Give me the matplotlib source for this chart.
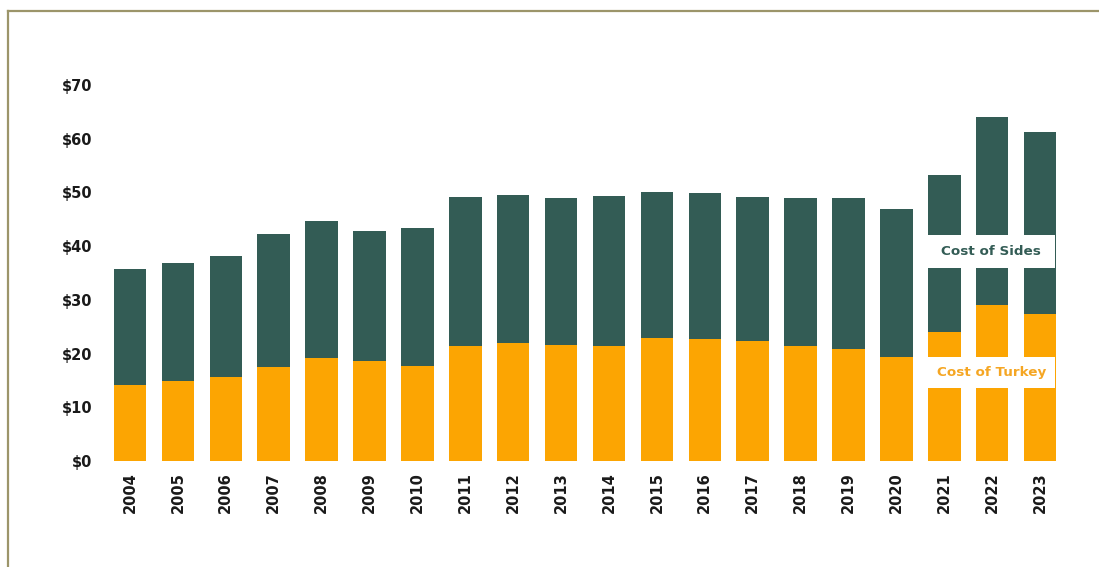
import numpy as np
import matplotlib
matplotlib.use('Agg')
import matplotlib.pyplot as plt
from matplotlib.patches import Rectangle
from matplotlib.lines import Line2D

# Thanksgiving dinner cost, split into turkey and sides
YEARS = [str(y) for y in range(2004, 2024)]
TOTAL = [35.68, 36.78, 38.10, 42.26, 44.61, 42.91, 43.47, 49.20, 49.48, 49.04,
         49.41, 50.11, 49.87, 49.12, 48.90, 48.91, 46.90, 53.31, 64.05, 61.17]
TURKEY = [14.1, 14.9, 15.6, 17.5, 19.2, 18.6, 17.7, 21.4, 22.0, 21.6,
          21.4, 22.9, 22.7, 22.3, 21.4, 20.80, 19.39, 23.99, 28.96, 27.35]
SIDES = [t - k for t, k in zip(TOTAL, TURKEY)]
YTICKS = [0, 10, 20, 30, 40, 50, 60, 70]

GREEN = '#335c55'
ORANGE = '#fca502'
FRAME = '#9c956a'

plt.rcParams['font.family'] = ['DejaVu Sans']

fig = plt.figure(figsize=(10.99, 5.67), dpi=100)
ax = fig.add_axes([0.0965, 0.187, 0.8717, 0.663])

x = np.arange(len(YEARS))
ax.bar(x, TURKEY, width=0.68, color=ORANGE, zorder=2)
ax.bar(x, SIDES, width=0.68, bottom=TURKEY, color=GREEN, zorder=2)

ax.set_xlim(-0.5, len(YEARS) - 0.5)
ax.set_ylim(0, 70)
ax.set_yticks(YTICKS)
ax.set_yticklabels([f'${v}' for v in YTICKS], fontsize=10.5, fontweight='bold',
                   color='#1a1a1a')
ax.set_xticks(x)
ax.set_xticklabels(YEARS, rotation=90, fontsize=10.5, fontweight='bold',
                   color='#1a1a1a')
ax.tick_params(axis='y', length=0, pad=10)
ax.tick_params(axis='x', length=0, pad=8)
for s in ax.spines.values():
    s.set_visible(False)

# in-chart labels sitting on white bands across the last three bars
ax.add_patch(Rectangle((16.66, 35.9), 2.65, 6.2, facecolor='white',
                       edgecolor='none', zorder=3))
ax.text(17.98, 39.0, 'Cost of Sides', ha='center', va='center', fontsize=9.7,
        fontweight='bold', color=GREEN, zorder=4)
ax.add_patch(Rectangle((16.66, 13.6), 2.65, 5.8, facecolor='white',
                       edgecolor='none', zorder=3))
ax.text(17.98, 16.5, 'Cost of Turkey', ha='center', va='center', fontsize=9.7,
        fontweight='bold', color='#f5a623', zorder=4)

# frame lines
fig.add_artist(Line2D([8 / 1099, 8 / 1099], [0, 1 - 11 / 567], color=FRAME, lw=1.6))
fig.add_artist(Line2D([8 / 1099, 1], [1 - 11 / 567, 1 - 11 / 567], color=FRAME, lw=1.6))

fig.savefig('out.png', dpi=100)
